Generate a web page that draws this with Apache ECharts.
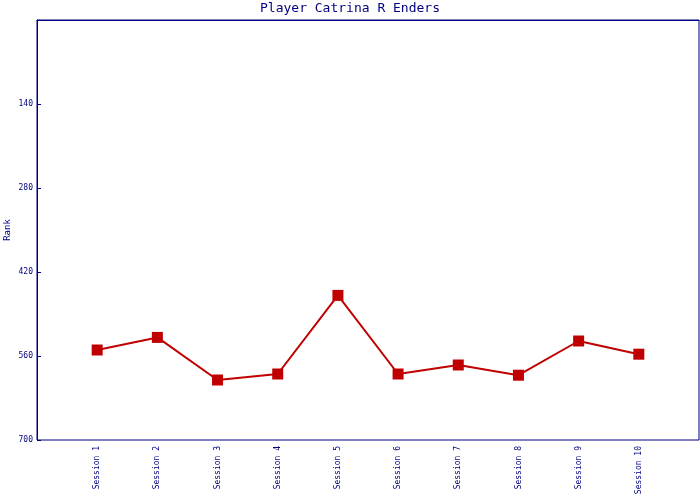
<!DOCTYPE html>
<html><head><meta charset="utf-8">
<script src="https://cdn.jsdelivr.net/npm/echarts@6/dist/echarts.min.js"></script>
<style>html,body{margin:0;padding:0;background:#fff}#c{width:700px;height:500px}</style>
</head><body><div id="c"></div>
<script>
const categories = ['Session 1','Session 2','Session 3','Session 4','Session 5','Session 6','Session 7','Session 8','Session 9','Session 10'];
const rankValues = [550, 529, 600, 590, 459, 590, 575, 592, 535, 557];
const yTicks = [0, 140, 280, 420, 560, 700];

const navy = '#000080';
const font = 'DejaVu Sans Mono';
const cats = [''].concat(categories, ['']);
const data = [null].concat(rankValues, [null]);

const chart = echarts.init(document.getElementById('c'), null, {renderer: 'canvas'});
chart.setOption({
  animation: false,
  backgroundColor: '#fff',
  title: {
    text: 'Player Catrina R Enders', left: 'center', top: -3,
    textStyle: {fontFamily: font, fontSize: 13, fontWeight: 'normal', color: navy}
  },
  grid: {left: 37, right: 1, top: 20, bottom: 60, show: true, borderColor: navy, borderWidth: 1,
    containLabel: false, outerBoundsMode: 'none'},
  xAxis: {
    type: 'category', data: cats, boundaryGap: false,
    axisLine: {lineStyle: {color: navy, width: 1}},
    axisTick: {show: false},
    splitLine: {show: false},
    axisLabel: {rotate: 90, interval: 0, color: navy, fontFamily: font, fontSize: 8, margin: 6}
  },
  yAxis: {
    type: 'value', inverse: true, min: yTicks[0], max: yTicks[yTicks.length-1], interval: 140,
    name: 'Rank', nameLocation: 'middle', nameGap: 25, nameRotate: 90, nameMoveOverlap: false,
    nameTextStyle: {color: navy, fontFamily: font, fontSize: 9},
    axisLine: {show: true, lineStyle: {color: navy, width: 1}},
    axisTick: {show: true, inside: true, length: 4, lineStyle: {color: navy}},
    splitLine: {show: false},
    axisLabel: {color: navy, fontFamily: font, fontSize: 8, margin: 4,
      formatter: v => yTicks.indexOf(v) > 0 ? String(v) : ''}
  },
  series: [{
    type: 'line', data: data, connectNulls: false,
    symbol: 'rect', symbolSize: 11, showAllSymbol: true,
    lineStyle: {color: '#c00000', width: 2},
    itemStyle: {color: '#c00000'}
  }]
});
</script></body></html>
